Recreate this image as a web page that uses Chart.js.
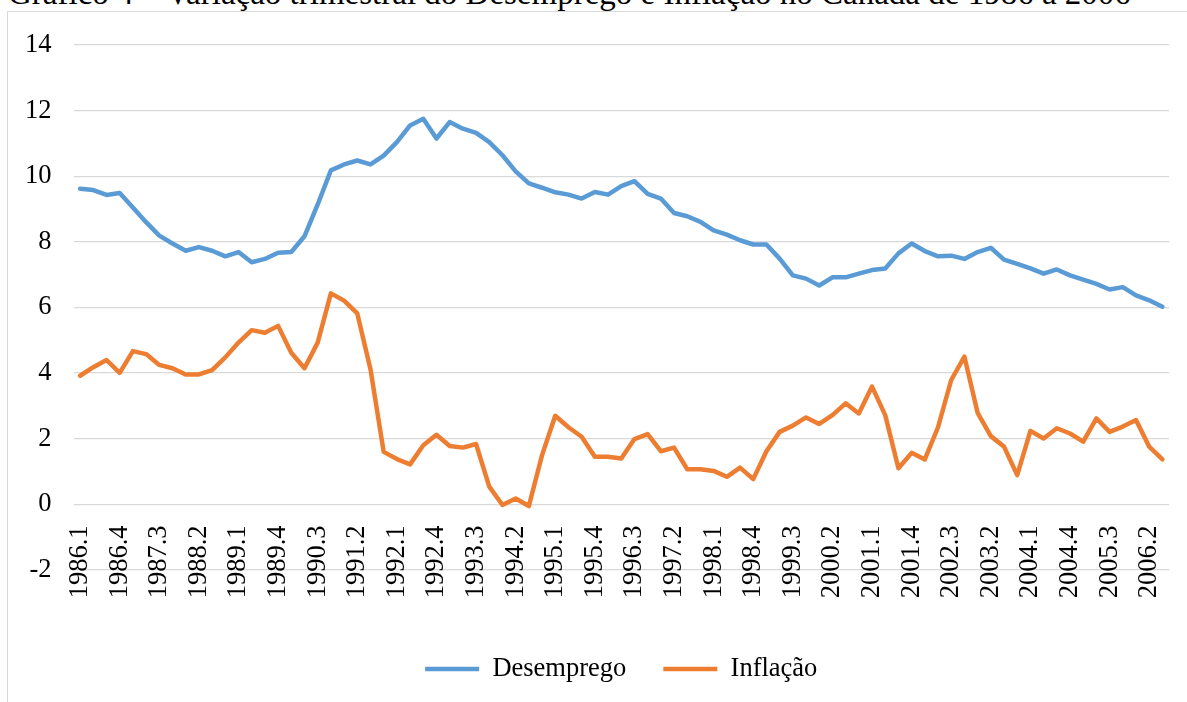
<!DOCTYPE html>
<html lang="pt">
<head>
    <meta charset="UTF-8">
    <title>Desemprego e Inflação no Canadá</title>
    <script src="https://cdn.jsdelivr.net/npm/chart.js"></script>
    <style>
        body {
            margin: 0;
            background: #ffffff;
            overflow: hidden;
            font-family: 'Liberation Serif', 'Times New Roman', serif;
        }
        .caption {
            position: absolute;
            left: 8px;
            top: -23px;
            font-size: 33px;
            line-height: 32px;
            white-space: nowrap;
            color: #000;
        }
        .frame {
            position: absolute;
            left: 7px;
            top: 11px;
            width: 1300px;
            height: 800px;
            border: 1px solid #d9d9d9;
        }
        .wrap {
            position: absolute;
            left: 0;
            top: 0;
            width: 1187px;
            height: 702px;
        }
    </style>
</head>
<body>
    <div class="caption">Gráfico 4 – Variação trimestral do Desemprego e Inflação no Canadá de 1986 a 2006</div>
    <div class="frame"></div>
    <div class="wrap"><canvas id="chart"></canvas></div>

    <script>
        // trimestres 1986.1 - 2006.3
        const quarters = [
            "1986.1","1986.2","1986.3","1986.4","1987.1","1987.2","1987.3","1987.4",
            "1988.1","1988.2","1988.3","1988.4","1989.1","1989.2","1989.3","1989.4",
            "1990.1","1990.2","1990.3","1990.4","1991.1","1991.2","1991.3","1991.4",
            "1992.1","1992.2","1992.3","1992.4","1993.1","1993.2","1993.3","1993.4",
            "1994.1","1994.2","1994.3","1994.4","1995.1","1995.2","1995.3","1995.4",
            "1996.1","1996.2","1996.3","1996.4","1997.1","1997.2","1997.3","1997.4",
            "1998.1","1998.2","1998.3","1998.4","1999.1","1999.2","1999.3","1999.4",
            "2000.1","2000.2","2000.3","2000.4","2001.1","2001.2","2001.3","2001.4",
            "2002.1","2002.2","2002.3","2002.4","2003.1","2003.2","2003.3","2003.4",
            "2004.1","2004.2","2004.3","2004.4","2005.1","2005.2","2005.3","2005.4",
            "2006.1","2006.2","2006.3"
        ];

        const desemprego = [
            9.62, 9.58, 9.43, 9.49, 9.05, 8.60, 8.19, 7.95,
            7.73, 7.84, 7.73, 7.56, 7.69, 7.38, 7.48, 7.67,
            7.69, 8.17, 9.14, 10.18, 10.36, 10.48, 10.36, 10.63,
            11.04, 11.55, 11.75, 11.15, 11.65, 11.45, 11.32, 11.04,
            10.64, 10.15, 9.78, 9.65, 9.51, 9.44, 9.32, 9.52,
            9.44, 9.70, 9.85, 9.46, 9.32, 8.88, 8.78, 8.61,
            8.35, 8.22, 8.05, 7.92, 7.92, 7.49, 6.98, 6.88,
            6.67, 6.92, 6.92, 7.03, 7.14, 7.19, 7.65, 7.95,
            7.72, 7.56, 7.58, 7.48, 7.69, 7.82, 7.46, 7.33,
            7.19, 7.03, 7.16, 6.98, 6.85, 6.72, 6.55, 6.62,
            6.37, 6.22, 6.02
        ];

        const inflacao = [
            3.92, 4.18, 4.40, 4.01, 4.67, 4.58, 4.25, 4.15,
            3.96, 3.96, 4.09, 4.48, 4.93, 5.31, 5.23, 5.44,
            4.62, 4.15, 4.93, 6.43, 6.21, 5.82, 4.12, 1.60,
            1.38, 1.22, 1.80, 2.12, 1.78, 1.73, 1.84, 0.54,
            -0.02, 0.18, -0.05, 1.50, 2.70, 2.35, 2.06, 1.45,
            1.45, 1.40, 1.99, 2.14, 1.62, 1.73, 1.07, 1.07,
            1.02, 0.84, 1.12, 0.77, 1.62, 2.21, 2.40, 2.65,
            2.45, 2.72, 3.08, 2.77, 3.59, 2.72, 1.10, 1.57,
            1.37, 2.35, 3.79, 4.50, 2.79, 2.08, 1.76, 0.89,
            2.24, 2.01, 2.32, 2.16, 1.91, 2.62, 2.21, 2.37,
            2.57, 1.76, 1.37
        ];

        const yTicks = { min: -2, max: 14, step: 2 };

        Chart.defaults.font.family = "'Liberation Serif', 'Times New Roman', serif";
        Chart.defaults.font.size = 26.5;
        Chart.defaults.color = '#000000';

        const ctx = document.getElementById('chart').getContext('2d');
        new Chart(ctx, {
            type: 'line',
            data: {
                labels: quarters,
                datasets: [
                    {
                        label: 'Desemprego',
                        data: desemprego,
                        borderColor: '#5B9BD5',
                        backgroundColor: '#5B9BD5',
                        borderWidth: 4.5,
                        borderCapStyle: 'round',
                        borderJoinStyle: 'round',
                        pointRadius: 0,
                        tension: 0
                    },
                    {
                        label: 'Inflação',
                        data: inflacao,
                        borderColor: '#ED7D31',
                        backgroundColor: '#ED7D31',
                        borderWidth: 4.5,
                        borderCapStyle: 'round',
                        borderJoinStyle: 'round',
                        pointRadius: 0,
                        tension: 0
                    }
                ]
            },
            options: {
                responsive: true,
                maintainAspectRatio: false,
                animation: false,
                layout: {
                    padding: { top: 45, right: 18, bottom: 9.75, left: 0 }
                },
                plugins: {
                    tooltip: { enabled: false },
                    legend: {
                        position: 'bottom',
                        fullSize: false,
                        title: {
                            display: true,
                            text: '',
                            padding: { top: 38.75, bottom: 0 },
                            font: { size: 10, lineHeight: 1 }
                        },
                        labels: {
                            usePointStyle: true,
                            pointStyle: 'line',
                            pointStyleWidth: 54,
                            padding: 37,
                            color: '#000000'
                        }
                    }
                },
                scales: {
                    x: {
                        type: 'category',
                        offset: true,
                        position: { y: 0 },
                        grid: { display: false, drawTicks: false },
                        border: { display: false },
                        afterFit: (scale) => {
                            scale.paddingLeft = 0;
                            scale.paddingRight = 0;
                        },
                        ticks: {
                            autoSkip: false,
                            minRotation: 90,
                            maxRotation: 90,
                            padding: 21,
                            callback: function (value, index) {
                                return index % 3 === 0 ? this.getLabelForValue(value) : '';
                            }
                        }
                    },
                    y: {
                        min: yTicks.min,
                        max: yTicks.max,
                        afterFit: (scale) => { scale.width = 73.5; },
                        grid: { color: '#d9d9d9', lineWidth: 1.3, drawTicks: false },
                        border: { display: false },
                        ticks: {
                            stepSize: yTicks.step,
                            padding: 22
                        }
                    }
                }
            }
        });
    </script>
</body>
</html>
